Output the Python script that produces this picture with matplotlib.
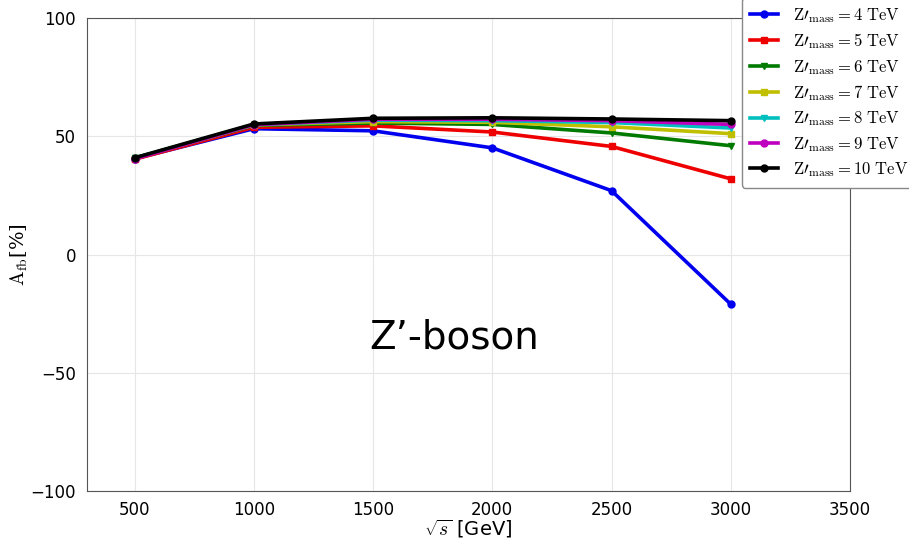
import matplotlib
matplotlib.use("Agg")
import matplotlib.pyplot as plt

plt.rcParams['mathtext.fontset'] = 'cm'

sqrt_s = [500, 1000, 1500, 2000, 2500, 3000]
masses = [4, 5, 6, 7, 8, 9, 10]
afb_4 = [40.5, 53.2, 52.3, 45.1, 27.0, -21.0]
afb_5 = [40.3, 53.8, 54.4, 51.8, 45.7, 32.0]
afb_6 = [40.8, 54.6, 55.6, 55.0, 51.4, 46.0]
afb_7 = [40.8, 54.8, 56.2, 55.9, 54.0, 51.1]
afb_8 = [40.8, 54.9, 56.8, 56.6, 55.8, 53.5]
afb_9 = [40.5, 54.9, 57.2, 57.2, 56.6, 55.0]
afb_10 = [40.9, 55.2, 57.6, 57.8, 57.3, 56.6]
series = [afb_4, afb_5, afb_6, afb_7, afb_8, afb_9, afb_10]
colors = ['#0000ee', '#ee0000', '#007a00', '#bfbf00', '#00bfbf', '#bf00bf', '#000000']
markers = ['o', 's', 'v', 's', 'v', 'o', 'o']

fig = plt.figure(figsize=(9.09, 5.39), dpi=100)
ax = fig.add_axes([0.0957, 0.089, 0.8393, 0.8776])

for m, vals, c, mk in zip(masses, series, colors, markers):
    ax.plot(sqrt_s, vals, color=c, marker=mk, markersize=5, linewidth=2.6,
            markeredgecolor=c,
            label=r'$\mathrm{Z\prime_{mass}=%d\ TeV}$' % m)

ax.set_xlim(300, 3500)
ax.set_ylim(-100, 100)
ax.set_xticks([500, 1000, 1500, 2000, 2500, 3000, 3500])
ax.set_yticks([-100, -50, 0, 50, 100])
ax.tick_params(labelsize=12, length=0)
ax.tick_params(axis='x', pad=7)
ax.tick_params(axis='y', pad=8)
ax.grid(True, color='#e6e6e6', linewidth=0.8)
for s in ax.spines.values():
    s.set_color('#555555')
    s.set_linewidth(0.8)
ax.set_xlabel(r'$\sqrt{s}$ [GeV]', fontsize=14, labelpad=-1)
ax.set_ylabel(r'$\mathrm{A_{fb}}$[%]', fontsize=14, labelpad=0,
              family='serif')
ax.text(1840, -35, "Z\u2019-boson", fontsize=28, ha='center', va='center')

leg = fig.legend(*ax.get_legend_handles_labels(), loc='upper right',
                 bbox_to_anchor=(1.018, 1.02), fontsize=12,
                 frameon=True, fancybox=True, shadow=False, edgecolor='#888888',
                 handlelength=1.7, borderpad=0.5, labelspacing=0.39,
                 handletextpad=0.9)
leg.get_frame().set_alpha(1)

fig.savefig('out.png', dpi=100)
